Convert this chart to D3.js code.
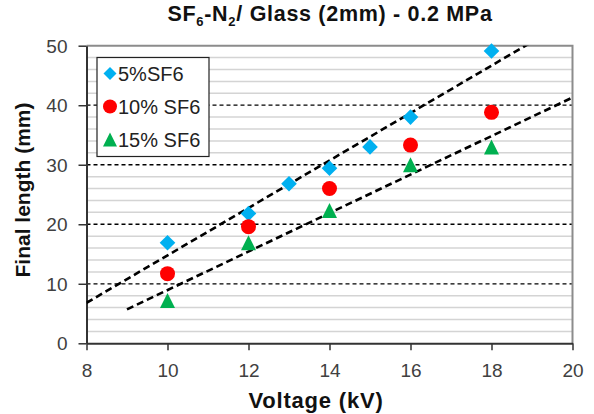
<!DOCTYPE html>
<html>
<head>
<meta charset="utf-8">
<script src="https://cdn.jsdelivr.net/npm/d3@7"></script>
<style>
  body { margin: 0; background: #fff; }
  svg { display: block; font-family: Arial, 'Liberation Sans', sans-serif; }
</style>
</head>
<body>
<svg id="chart" width="594" height="414"></svg>
<script>
// series
var volt5 = [10, 12, 13, 14, 15, 16, 18];
var len5 = [16.9, 21.8, 26.8, 29.4, 33.0, 38.0, 49.1];
var volt10 = [10, 12, 14, 16, 18];
var len10 = [11.7, 19.6, 26.0, 33.3, 38.8];
var volt15 = [10, 12, 14, 16, 18];
var len15 = [7.2, 16.9, 22.3, 30.0, 33.0];

var seriesNames = ['5%SF6', '10% SF6', '15% SF6'];
var seriesColors = ['#00b0f0', '#ff0000', '#00b050'];
var xTicks = [8, 10, 12, 14, 16, 18, 20];
var yTicks = [0, 10, 20, 30, 40, 50];
var yMinor = [2, 4, 6, 8, 12, 14, 16, 18, 22, 24, 26, 28, 32, 34, 36, 38, 42, 44, 46, 48];
// trendline ranges (kV) for 5% and 15% fits
var trendRange5 = [8, 20];
var trendRange15 = [9, 20];

var svg = d3.select('#chart');
var pLeft = 86.5, pRight = 572.5, pTop = 45.7, pBottom = 343.3;

var x = d3.scaleLinear().domain([8, 20]).range([pLeft, pRight]);
var y = d3.scaleLinear().domain([0, 50]).range([pBottom, pTop]);

svg.append('defs').append('clipPath').attr('id', 'plotclip')
  .append('rect').attr('x', pLeft).attr('y', pTop)
  .attr('width', pRight - pLeft).attr('height', pBottom - pTop);

// minor grid
svg.append('g').selectAll('line').data(yMinor).enter().append('line')
  .attr('x1', pLeft).attr('x2', pRight)
  .attr('y1', function(d) { return y(d); }).attr('y2', function(d) { return y(d); })
  .attr('stroke', '#d4d4d4').attr('stroke-width', 1.5);

// major grid (dashed)
svg.append('g').selectAll('line').data(yTicks.filter(function(d) { return d > 0 && d < 50; }))
  .enter().append('line')
  .attr('x1', pLeft).attr('x2', pRight)
  .attr('y1', function(d) { return y(d); }).attr('y2', function(d) { return y(d); })
  .attr('stroke', '#000').attr('stroke-width', 1.3).attr('stroke-dasharray', '4,3');

// top / right border
svg.append('path')
  .attr('d', 'M' + pLeft + ',' + pTop + 'H' + pRight + 'V' + pBottom)
  .attr('fill', 'none').attr('stroke', '#8c8c8c').attr('stroke-width', 2);

// axes
var xAxis = svg.append('g').attr('transform', 'translate(0,' + pBottom + ')')
  .call(d3.axisBottom(x).tickValues(xTicks).tickSize(7).tickSizeOuter(0).tickPadding(13));
var yAxis = svg.append('g').attr('transform', 'translate(' + pLeft + ',0)')
  .call(d3.axisLeft(y).tickValues(yTicks).tickSize(8).tickSizeOuter(0).tickPadding(11));

[xAxis, yAxis].forEach(function(ax) {
  ax.select('.domain').attr('stroke', '#333').attr('stroke-width', 2);
  ax.selectAll('.tick line').attr('stroke', '#333').attr('stroke-width', 1.5);
  ax.selectAll('.tick text').attr('fill', '#404040').style('font-size', '19px')
    .style('font-family', "Arial, 'Liberation Sans', sans-serif");
});
yAxis.selectAll('.tick text').attr('dy', '0.35em');

// linear trendlines
function fit(xs, ys) {
  var mx = d3.mean(xs), my = d3.mean(ys);
  var sxy = d3.sum(xs, function(v, i) { return (v - mx) * (ys[i] - my); });
  var sxx = d3.sum(xs, function(v) { return (v - mx) * (v - mx); });
  var b = sxy / sxx;
  return function(v) { return my + b * (v - mx); };
}
var trends = [
  { f: fit(volt5, len5), r: trendRange5 },
  { f: fit(volt15, len15), r: trendRange15 }
];
svg.append('g').attr('clip-path', 'url(#plotclip)')
  .selectAll('line').data(trends).enter().append('line')
  .attr('x1', function(d) { return x(d.r[0]); })
  .attr('y1', function(d) { return y(d.f(d.r[0])); })
  .attr('x2', function(d) { return x(d.r[1]); })
  .attr('y2', function(d) { return y(d.f(d.r[1])); })
  .attr('stroke', '#000').attr('stroke-width', 2.6).attr('stroke-dasharray', '7,4');

// markers
function marker(kind, s) {
  if (kind == 0) return 'M0,' + (-s) + 'L' + s + ',0L0,' + s + 'L' + (-s) + ',0Z';
  if (kind == 1) return 'M' + (-s) + ',0A' + s + ',' + s + ' 0 1,0 ' + s + ',0A' + s + ',' + s + ' 0 1,0 ' + (-s) + ',0Z';
  return 'M0,' + (-s) + 'L' + s + ',' + s + 'L' + (-s) + ',' + s + 'Z';
}
var allSeries = [[volt5, len5], [volt10, len10], [volt15, len15]];
var markerSize = [7.8, 7.5, 7.5];
allSeries.forEach(function(sr, k) {
  svg.append('g').selectAll('path').data(sr[0]).enter().append('path')
    .attr('d', marker(k, markerSize[k]))
    .attr('transform', function(d, i) { return 'translate(' + x(d) + ',' + y(sr[1][i]) + ')'; })
    .attr('fill', seriesColors[k]);
});

// legend
var legend = svg.append('g');
legend.append('rect')
  .attr('x', 97).attr('y', 57.5).attr('width', 112).attr('height', 99)
  .attr('fill', '#fff').attr('stroke', '#222').attr('stroke-width', 1.2);
var legendSize = [6.5, 7, 7];
seriesNames.forEach(function(name, k) {
  var ly = 73.5 + k * 33;
  legend.append('path').attr('d', marker(k, legendSize[k]))
    .attr('transform', 'translate(110,' + ly + ')')
    .attr('fill', seriesColors[k]);
  legend.append('text').attr('x', 118).attr('y', ly).attr('dy', '0.36em')
    .attr('fill', '#222').style('font-size', '20px').text(name);
});

// title
var title = svg.append('text').attr('x', 330).attr('y', 21)
  .attr('text-anchor', 'middle').style('font-size', '21.5px').style('font-weight', 'bold')
  .style('letter-spacing', '0.7px').attr('fill', '#111');
title.append('tspan').text('SF');
title.append('tspan').attr('dy', 5).style('font-size', '13px').text('6');
title.append('tspan').attr('dy', -5).text('-N');
title.append('tspan').attr('dy', 5).style('font-size', '13px').text('2');
title.append('tspan').attr('dy', -5).text('/ Glass (2mm) - 0.2 MPa');

// axis titles
svg.append('text').attr('x', 316).attr('y', 408)
  .attr('text-anchor', 'middle').style('font-size', '22px').style('font-weight', 'bold')
  .style('letter-spacing', '0.8px').attr('fill', '#111').text('Voltage (kV)');
svg.append('text').attr('transform', 'translate(30,190) rotate(-90)')
  .attr('text-anchor', 'middle').style('font-size', '21px').style('font-weight', 'bold')
  .attr('fill', '#111').text('Final length (mm)');
</script>
</body>
</html>
